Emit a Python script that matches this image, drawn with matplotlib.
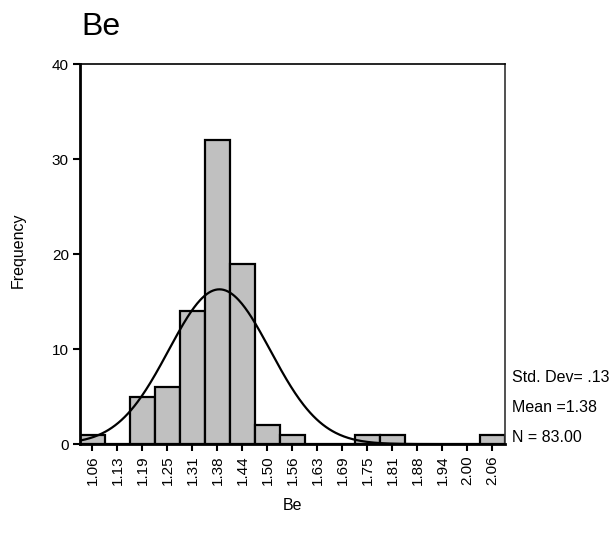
import matplotlib.pyplot as plt
import numpy as np

plt.rcParams['font.family'] = ['Liberation Sans', 'DejaVu Sans']

# histogram bins (centres) and counts
bin_centers = np.array([1.0625, 1.125, 1.1875, 1.25, 1.3125, 1.375, 1.4375, 1.5,
                        1.5625, 1.625, 1.6875, 1.75, 1.8125, 1.875, 1.9375, 2.0, 2.0625])
counts = np.array([1, 0, 5, 6, 14, 32, 19, 2, 1, 0, 0, 1, 1, 0, 0, 0, 1])
tick_labels = ['1.06', '1.13', '1.19', '1.25', '1.31', '1.38', '1.44', '1.50', '1.56',
               '1.63', '1.69', '1.75', '1.81', '1.88', '1.94', '2.00', '2.06']

mean_val = 1.38
std_dev = 0.127
n_obs = 83
bin_width = 0.0625

fig = plt.figure(figsize=(6.15, 5.39), dpi=100)
ax = fig.add_axes([0.130, 0.176, 0.691, 0.705])

ax.bar(bin_centers, counts, width=bin_width, color='#c0c0c0', edgecolor='black',
       linewidth=1.6, zorder=2)

# normal curve scaled to the histogram
lo = bin_centers[0] - bin_width / 2
hi = bin_centers[-1] + bin_width / 2
xs = np.linspace(lo, hi, 400)
ys = n_obs * bin_width / (std_dev * np.sqrt(2 * np.pi)) * np.exp(-0.5 * ((xs - mean_val) / std_dev) ** 2)
ax.plot(xs, ys, color='black', linewidth=1.6, zorder=3)

ax.set_xlim(lo, hi)
ax.set_ylim(0, 40)
ax.set_yticks([0, 10, 20, 30, 40])
ax.set_xticks(bin_centers)
ax.set_xticklabels(tick_labels, rotation=90)
ax.tick_params(axis='both', direction='out', length=5, width=1.5, labelsize=11, pad=3)

ax.spines['left'].set_linewidth(2)
ax.spines['bottom'].set_linewidth(2)
ax.spines['top'].set_linewidth(1.2)
ax.spines['right'].set_linewidth(1.2)
ax.spines['right'].set_color('#333333')

fig.text(18 / 615, 1 - 250 / 539, 'Frequency', fontsize=11.5, rotation=90,
         ha='center', va='center')
fig.text(0.4757, 1 - 505 / 539, 'Be', fontsize=11.5, ha='center', va='center')
fig.text(0.132, 0.950, 'Be', fontsize=23, ha='left', va='center')

fig.text(0.832, 1 - 377 / 539, 'Std. Dev= .%02d' % round(std_dev * 100), fontsize=11.5, va='center')
fig.text(0.832, 1 - 408 / 539, 'Mean =%.2f' % mean_val, fontsize=11.5, va='center')
fig.text(0.832, 1 - 437 / 539, 'N = %.2f' % n_obs, fontsize=11.5, va='center')

fig.savefig('out.png', dpi=100)
